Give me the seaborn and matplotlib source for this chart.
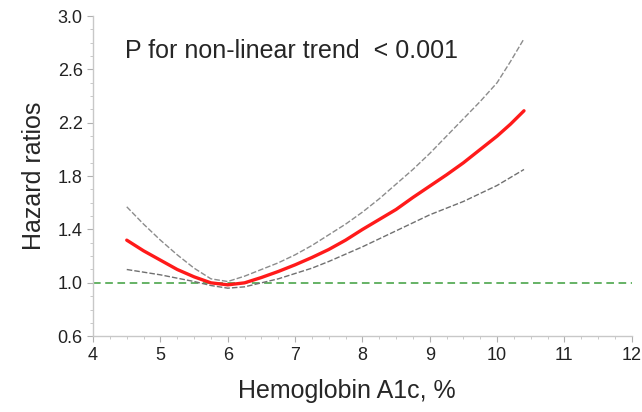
import seaborn as sns
import matplotlib.pyplot as plt
from matplotlib.ticker import MultipleLocator

# ---------- DATA ----------
hba1c = [4.5, 4.75, 5.0, 5.25, 5.5, 5.75, 6.0, 6.25, 6.5, 6.75, 7.0, 7.25,
         7.5, 7.75, 8.0, 8.25, 8.5, 8.75, 9.0, 9.25, 9.5, 9.75, 10.0, 10.2,
         10.4]
hr = [1.32, 1.24, 1.17, 1.10, 1.045, 1.00, 0.985, 1.00, 1.04, 1.085, 1.135,
      1.19, 1.25, 1.32, 1.40, 1.475, 1.55, 1.64, 1.725, 1.81, 1.90, 2.00,
      2.10, 2.19, 2.29]
hr_upper = [1.57, 1.44, 1.32, 1.21, 1.11, 1.03, 1.01, 1.05, 1.10, 1.15, 1.21,
            1.28, 1.36, 1.44, 1.53, 1.63, 1.74, 1.85, 1.97, 2.10, 2.23, 2.36,
            2.50, 2.66, 2.83]
hr_lower = [1.10, 1.08, 1.06, 1.035, 1.01, 0.98, 0.96, 0.97, 1.00, 1.03, 1.07,
            1.11, 1.16, 1.215, 1.27, 1.33, 1.39, 1.45, 1.51, 1.56, 1.61, 1.67,
            1.73, 1.79, 1.85]
x_ticks = [4, 5, 6, 7, 8, 9, 10, 11, 12]
y_ticks = [0.6, 1.0, 1.4, 1.8, 2.2, 2.6, 3.0]

# ---------- STYLE ----------
sns.set_style("white")
plt.rcParams["font.family"] = ["Liberation Sans", "DejaVu Sans"]

fig = plt.figure(figsize=(6.42, 4.12), dpi=100)
ax = fig.add_axes([0.145, 0.184, 0.839, 0.777])

# ---------- PLOT ----------
ax.axhline(1.0, color="#3c9e3c", lw=1.1, ls=(0, (5, 3)), zorder=1)
sns.lineplot(x=hba1c, y=hr_upper, ax=ax, color="#8c8c8c", lw=1.0,
             linestyle=(0, (4, 1.5)))
sns.lineplot(x=hba1c, y=hr_lower, ax=ax, color="#707070", lw=1.0,
             linestyle=(0, (4, 1.5)))
sns.lineplot(x=hba1c, y=hr, ax=ax, color="#ff1a1a", lw=2.4)

ax.set_xlim(4, 12)
ax.set_ylim(0.6, 3.0)
ax.set_xticks(x_ticks)
ax.set_yticks(y_ticks)
ax.set_yticklabels([f"{v:.1f}" for v in y_ticks])
ax.xaxis.set_minor_locator(MultipleLocator(0.25))
ax.yaxis.set_minor_locator(MultipleLocator(0.1))

for side in ["top", "right"]:
    ax.spines[side].set_visible(False)
for side in ["left", "bottom"]:
    ax.spines[side].set_color("#c8c8c8")
    ax.spines[side].set_linewidth(1.0)

ax.tick_params(which="major", direction="out", length=4, width=0.8,
               color="#b0b0b0", labelsize=13, labelcolor="#222222",
               bottom=True, left=True)
ax.tick_params(which="minor", direction="out", length=2, width=0.6,
               color="#c0c0c0", bottom=True, left=True)

ax.set_xlabel("Hemoglobin A1c, %", fontsize=18)
ax.xaxis.set_label_coords(0.471, -0.135)
ax.set_ylabel("Hazard ratios", fontsize=18, labelpad=8)

ax.text(4.47, 2.74, "P for non-linear trend  < 0.001", fontsize=18,
        va="center", ha="left")

fig.savefig("out.png", dpi=100)
